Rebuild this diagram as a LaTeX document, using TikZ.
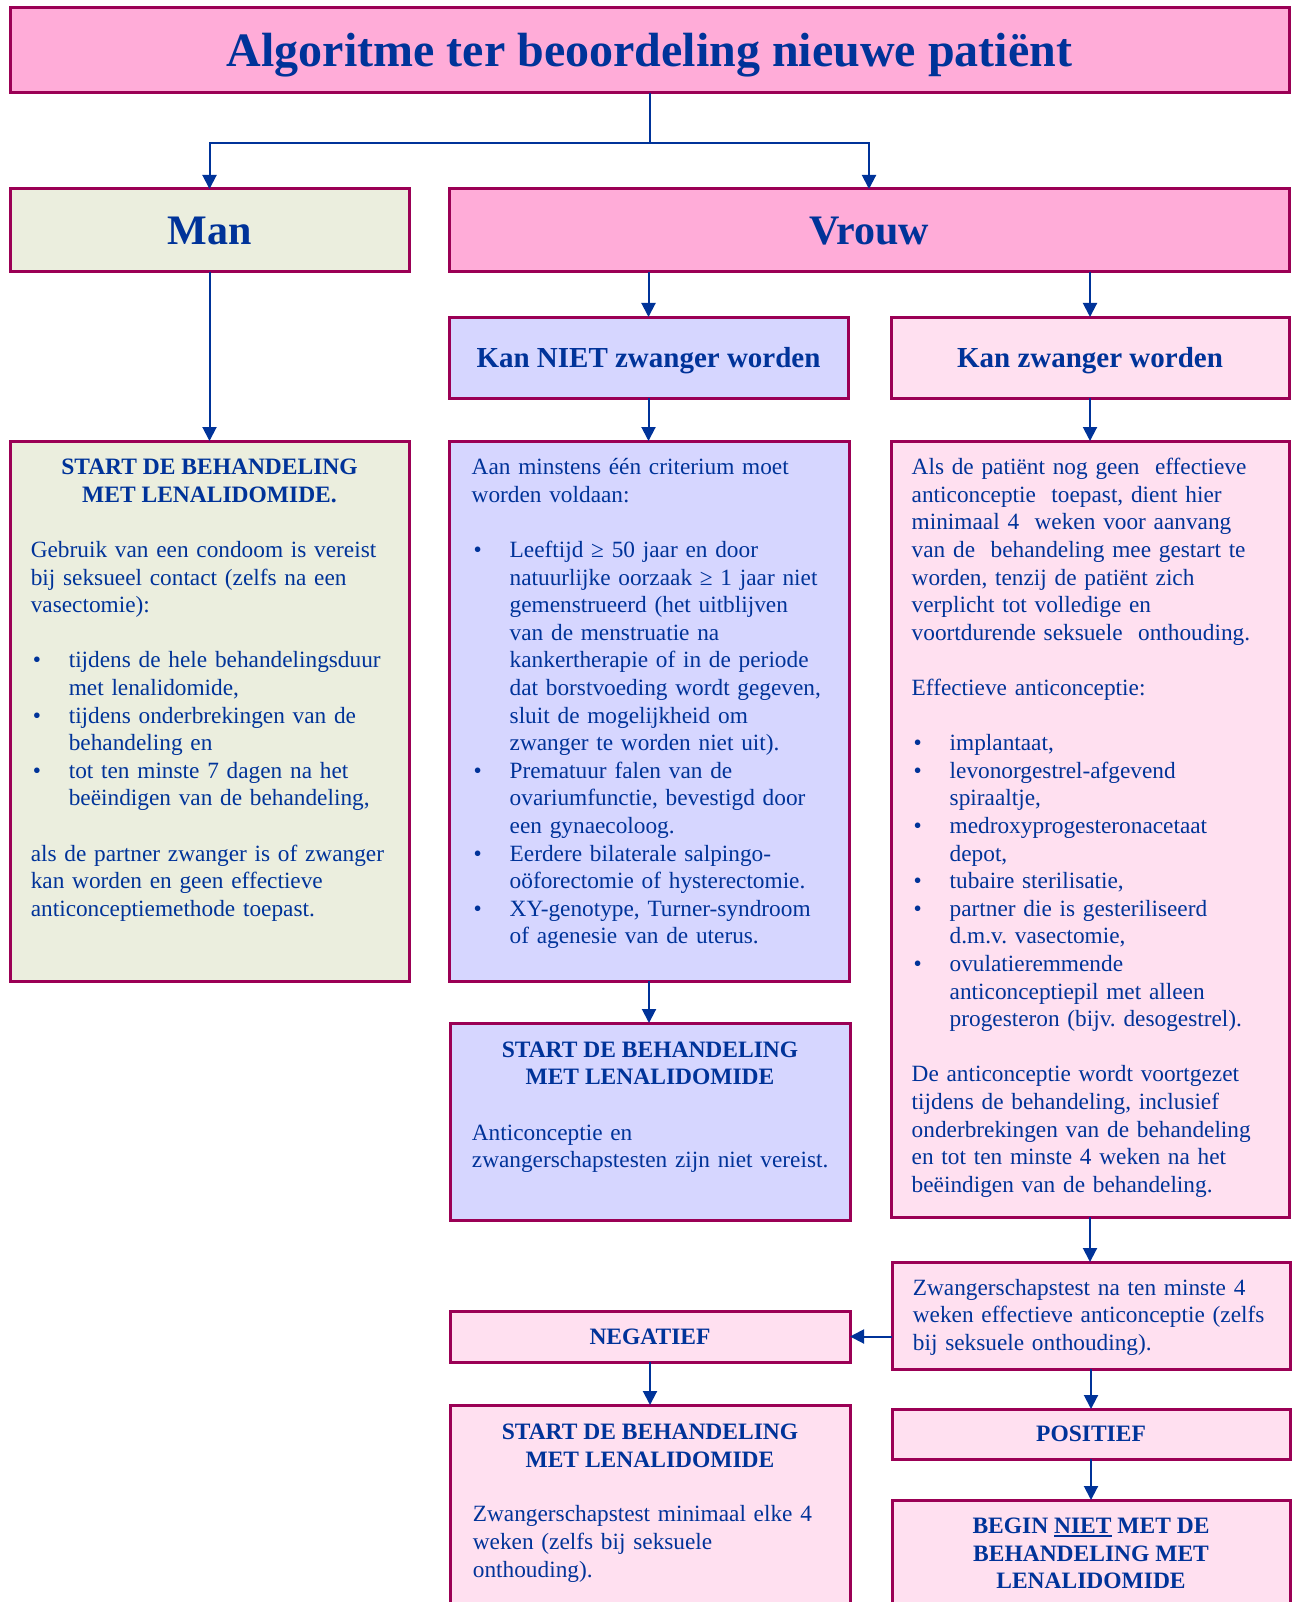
\documentclass[tikz,border=0pt]{standalone}
\usepackage{fontspec}
\setmainfont{Liberation Serif}
\usetikzlibrary{arrows.meta}
\definecolor{tblue}{RGB}{0,51,153}
\definecolor{bord}{RGB}{155,0,85}
\definecolor{pinkA}{RGB}{255,172,216}
\definecolor{greenA}{RGB}{235,238,222}
\definecolor{lavA}{RGB}{214,214,255}
\definecolor{pinkB}{RGB}{255,224,240}
\frenchspacing
\newcommand\bodyf{\fontsize{23.3}{27.6}\selectfont\frenchspacing}
\newcommand\headf{\fontsize{23.5}{27.6}\selectfont\bfseries}
\newcommand\bul{\hspace*{2pt}\makebox[36pt][l]{•}}
\newcommand\ind{\hspace*{38pt}}
\newcommand\ulx[1]{\setbox0\hbox{#1}\rlap{\rule[-3.5pt]{\wd0}{1.6pt}}\box0}
\tikzset{
  box/.style={draw=bord, line width=3pt, rectangle, inner sep=0pt, outer sep=0pt, anchor=north west, text=tblue},
  txt/.style={text=tblue, inner sep=0pt, anchor=north west, align=left, text width=430pt, font=\bodyf},
  hd/.style={text=tblue, inner sep=0pt, anchor=north, align=center, font=\headf},
  arr/.style={draw=tblue, line width=2pt, -{Triangle[length=14pt,width=14pt]}},
}
\begin{document}
\begin{tikzpicture}[x=1pt,y=-1pt]
\useasboundingbox (0,0) rectangle (1295,1602);
\fill[white] (0,0) rectangle (1295,1602);
\clip (0,0) rectangle (1295,1602);

% boxes
\node[box, fill=pinkA, minimum width=1279pt, minimum height=85pt, font=\fontsize{48}{56}\selectfont\bfseries, text height=32pt, text depth=0pt] (title) at (10,8) {Algoritme ter beoordeling nieuwe patiënt};
\node[box, fill=greenA, minimum width=399pt, minimum height=83pt, font=\fontsize{42}{50}\selectfont\bfseries, text height=28pt, text depth=0pt] (man) at (10,189) {Man};
\node[box, fill=pinkA, minimum width=840pt, minimum height=83pt, font=\fontsize{42}{50}\selectfont\bfseries, text height=28pt, text depth=0pt] (vrouw) at (449,189) {Vrouw};
\node[box, fill=lavA, minimum width=399pt, minimum height=81pt, font=\fontsize{29}{34}\selectfont\bfseries, text height=19pt, text depth=0pt] (niet) at (449,317) {Kan NIET zwanger worden};
\node[box, fill=pinkB, minimum width=398pt, minimum height=81pt, font=\fontsize{29}{34}\selectfont\bfseries, text height=19pt, text depth=0pt] (zw) at (891,317) {Kan zwanger worden};

\node[box, fill=greenA, minimum width=399pt, minimum height=540pt] (mantxt) at (10,441) {};
\node[box, fill=lavA, minimum width=400pt, minimum height=540pt] (crit) at (449,441) {};
\node[box, fill=pinkB, minimum width=398pt, minimum height=776pt] (zwtxt) at (891,441) {};
\node[box, fill=lavA, minimum width=400pt, minimum height=197pt] (startn) at (450,1023) {};
\node[box, fill=pinkB, minimum width=398pt, minimum height=107pt] (test) at (892,1262) {};
\node[box, fill=pinkB, minimum width=400pt, minimum height=51pt, font=\headf, text height=15.6pt, text depth=0pt] (neg) at (450,1311) {NEGATIEF};
\node[box, fill=pinkB, minimum width=398pt, minimum height=50pt, font=\headf, text height=15.6pt, text depth=0pt] (pos) at (892,1409) {POSITIEF};
\node[box, fill=pinkB, minimum width=400pt, minimum height=260pt] (startz) at (450,1405) {};
\node[box, fill=pinkB, minimum width=398pt, minimum height=200pt] (begin) at (892,1500) {};

% texts
\node[hd] (manhd) at (209.5,455.2) {\strut START DE BEHANDELING\\MET LENALIDOMIDE.};
\node[txt] (manbody) at (30.6,538) {\strut Gebruik van een condoom is vereist\\
bij seksueel contact (zelfs na een\\
vasectomie):\\[27.6pt]
\bul tijdens de hele behandelingsduur\\
\ind met lenalidomide,\\
\bul tijdens onderbrekingen van de\\
\ind behandeling en\\
\bul tot ten minste 7 dagen na het\\
\ind beëindigen van de behandeling,\\[27.6pt]
als de partner zwanger is of zwanger\\
kan worden en geen effectieve\\
anticonceptiemethode toepast.};

\node[txt] (critbody) at (471.5,455.2) {\strut Aan minstens één criterium moet\\
worden voldaan:\\[27.6pt]
\bul Leeftijd ≥ 50 jaar en door\\
\ind natuurlijke oorzaak ≥ 1 jaar niet\\
\ind gemenstrueerd (het uitblijven\\
\ind van de menstruatie na\\
\ind kankertherapie of in de periode\\
\ind dat borstvoeding wordt gegeven,\\
\ind sluit de mogelijkheid om\\
\ind zwanger te worden niet uit).\\
\bul Prematuur falen van de\\
\ind ovariumfunctie, bevestigd door\\
\ind een gynaecoloog.\\
\bul Eerdere bilaterale salpingo-\\
\ind oöforectomie of hysterectomie.\\
\bul XY-genotype, Turner-syndroom\\
\ind of agenesie van de uterus.};

\node[txt] (zwbody) at (911.5,455.2) {\strut Als de patiënt nog geen \ effectieve\\
anticonceptie \ toepast, dient hier\\
minimaal 4 \ weken voor aanvang\\
van de \ behandeling mee gestart te\\
worden, tenzij de patiënt zich\\
verplicht tot volledige en\\
voortdurende seksuele \ onthouding.\\[27.6pt]
Effectieve anticonceptie:\\[27.6pt]
\bul implantaat,\\
\bul levonorgestrel-afgevend\\
\ind spiraaltje,\\
\bul medroxyprogesteronacetaat\\
\ind depot,\\
\bul tubaire sterilisatie,\\
\bul partner die is gesteriliseerd\\
\ind d.m.v. vasectomie,\\
\bul ovulatieremmende\\
\ind anticonceptiepil met alleen\\
\ind progesteron (bijv. desogestrel).\\[27.6pt]
De anticonceptie wordt voortgezet\\
tijdens de behandeling, inclusief\\
onderbrekingen van de behandeling\\
en tot ten minste 4 weken na het\\
beëindigen van de behandeling.};

\node[hd] (startnhd) at (650,1037.7) {\strut START DE BEHANDELING\\MET LENALIDOMIDE};
\node[txt] (startnbody) at (471.7,1120.5) {\strut Anticonceptie en\\
zwangerschapstesten zijn niet vereist.};

\node[txt] (testbody) at (912.7,1275.7) {\strut Zwangerschapstest na ten minste 4\\
weken effectieve anticonceptie (zelfs\\
bij seksuele onthouding).};

\node[hd] (startzhd) at (650,1420) {\strut START DE BEHANDELING\\MET LENALIDOMIDE};
\node[txt] (startzbody) at (472.7,1502.4) {\strut Zwangerschapstest minimaal elke 4\\
weken (zelfs bij seksuele\\
onthouding).};

\node[hd] (beginhd) at (1091,1514) {\strut BEGIN \ulx{NIET}\ MET DE\\BEHANDELING MET\\LENALIDOMIDE};

% connectors
\path (title.south) -- ++(0,50) coordinate (j);
\draw[draw=tblue, line width=2pt] (title.south) -- (j);
\draw[arr] (j) -| (man.north);
\draw[arr] (j) -| (vrouw.north);
\draw[arr] (man.south) -- (mantxt.north);
\draw[arr] (vrouw.south -| niet.north) -- (niet.north);
\draw[arr] (vrouw.south -| zw.north) -- (zw.north);
\draw[arr] (niet.south) -- (niet.south |- crit.north);
\draw[arr] (zw.south) -- (zw.south |- zwtxt.north);
\draw[arr] (crit.south) -- (crit.south |- startn.north);
\draw[arr] (zwtxt.south) -- (zwtxt.south |- test.north);
\draw[arr] (test.west |- neg.east) -- (neg.east);
\draw[arr] (neg.south) -- (neg.south |- startz.north);
\draw[arr] (test.south) -- (test.south |- pos.north);
\draw[arr] (pos.south) -- (pos.south |- begin.north);
\end{tikzpicture}
\end{document}
